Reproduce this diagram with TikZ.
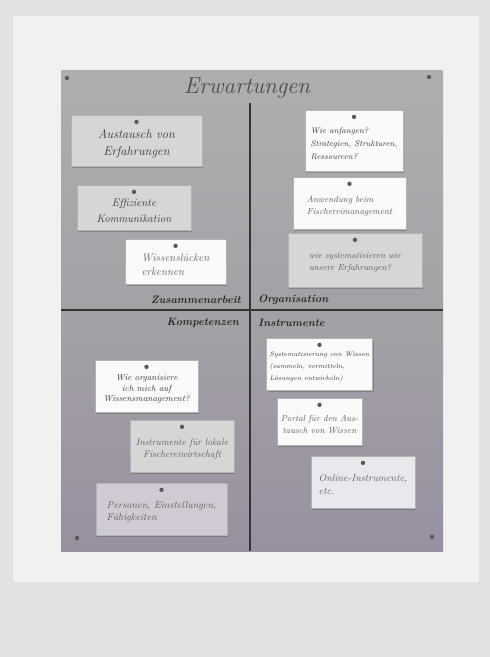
\documentclass[tikz,border=0pt]{standalone}
\usetikzlibrary{calc}
\definecolor{bgcol}{RGB}{226,226,226}
\definecolor{panelcol}{RGB}{241,241,241}
\definecolor{boardtop}{RGB}{174,174,176}
\definecolor{boardmid}{RGB}{164,161,166}
\definecolor{boardbot}{RGB}{152,144,160}
\definecolor{cardgrey}{RGB}{214,214,214}
\definecolor{cardwhite}{RGB}{250,250,250}
\definecolor{cardlav}{RGB}{208,202,212}
\definecolor{cardlav2}{RGB}{234,231,237}
\definecolor{inkdark}{RGB}{55,55,55}
\definecolor{inklight}{RGB}{95,95,95}
\tikzset{
  card/.style={draw=black!30, line width=0.3pt, inner sep=2pt},
  pinhead/.style={fill=black!65},
  boardline/.style={draw=black!80, line width=1.6pt},
  quadlabel/.style={font=\bfseries\itshape\fontsize{10.8}{12}\selectfont, text=black!85, inner sep=0pt},
  shadowbox/.style={fill=black, opacity=0.18}
}
\newcommand{\cardat}[8]{% name, x, y, w, h, fill, text options, text
  \fill[shadowbox] (#2-#4/2+1.2,#3-#5/2+1.6) rectangle (#2+#4/2+1.2,#3+#5/2+1.6);
  \node[card, fill=#6, minimum width=#4pt, minimum height=#5pt] (#1) at (#2,#3) {};
  \node[inner sep=0pt, #7] (#1t) at (#2,#3+3) {#8};
  \fill[pinhead] ($(#1.north)+(0,7)$) circle (2.2pt);
}
\begin{document}
\begin{tikzpicture}[x=1pt,y=-1pt]
\useasboundingbox (0,0) rectangle (490,657);
\fill[bgcol] (0,0) rectangle (490,657);
\fill[panelcol] (13,16) rectangle (479,582);
% board
\shade[top color=boardtop, bottom color=boardbot, middle color=boardmid] (61,70) rectangle (443,551);
\node[font=\itshape\fontsize{23}{24}\selectfont, text=black!70, inner sep=0pt] (title) at (247,88) {Erwartungen};
\coordinate (vtop) at (250,103);
\coordinate (vbot) at (250,551);
\coordinate (hl) at (61,310);
\coordinate (hr) at (443,310);
\draw[boardline] (vtop) -- (vbot);
\draw[boardline] (hl) -- (hr);
\fill[pinhead] (67,78) circle (2.2pt);
\fill[pinhead] (429,77) circle (2.2pt);
\fill[pinhead] (77,538) circle (2.2pt);
\fill[pinhead] (432,537) circle (2.2pt);
% quadrant labels
\node[quadlabel, anchor=east] (zus) at (241,300) {Zusammenarbeit};
\node[quadlabel, anchor=west] (org) at (258,300) {Organisation};
\node[quadlabel, anchor=east] (kom) at (239,323) {Kompetenzen};
\node[quadlabel, anchor=west] (ins) at (258,323) {Instrumente};
% cards
\cardat{c1}{136.5}{140.5}{131}{51}{cardgrey}{align=center, text=inkdark, font=\itshape\fontsize{12.5}{17}\selectfont}{Austausch von\\ Erfahrungen}
\cardat{c2}{134}{207.5}{114}{45}{cardgrey}{align=center, text=inkdark, font=\itshape\fontsize{11}{16}\selectfont}{Effiziente\\ Kommunikation}
\cardat{c3}{175.5}{261.5}{101}{45}{cardwhite}{align=left, text=inklight, font=\itshape\fontsize{11}{14}\selectfont}{Wissenslücken\\ erkennen}
\cardat{c4}{354}{140.5}{98}{61}{cardwhite}{align=left, text=inkdark, font=\itshape\fontsize{8.2}{13}\selectfont}{Wie anfangen?\\ Strategien, Strukturen,\\ Ressourcen?}
\cardat{c5}{349.5}{203}{113}{52}{cardwhite}{align=left, text=inklight, font=\itshape\fontsize{8.8}{12}\selectfont}{Anwendung beim\\ Fischereimanagement}
\cardat{c6}{355}{260}{134}{54}{cardgrey}{align=left, text=inklight, font=\itshape\fontsize{8.8}{12}\selectfont}{wie systematisieren wir\\ unsere Erfahrungen?}
\cardat{c7}{146.5}{386}{103}{52}{cardwhite}{align=center, text=inkdark, font=\itshape\fontsize{8.8}{10.5}\selectfont}{Wie organisiere\\ ich mich auf\\ Wissensmanagement?}
\cardat{c8}{182}{446}{104}{52}{cardgrey}{align=center, text=inklight, font=\itshape\fontsize{9.5}{12}\selectfont}{Instrumente für lokale\\ Fischereiwirtschaft}
\cardat{c9}{161.5}{509}{131}{52}{cardlav}{align=left, text=inklight, font=\itshape\fontsize{10}{12}\selectfont}{Personen, Einstellungen,\\ Fähigkeiten}
\cardat{c10}{319.5}{364}{106}{52}{cardwhite}{align=left, text=inkdark, font=\itshape\fontsize{6.6}{12}\selectfont}{Systematisierung von Wissen\\ (sammeln, vermitteln,\\ Lösungen entwickeln)}
\cardat{c11}{319.5}{421.5}{85}{47}{cardwhite}{align=center, text=inklight, font=\itshape\fontsize{8.8}{12}\selectfont}{Portal für den Aus-\\ tausch von Wissen}
\cardat{c12}{363}{482}{104}{52}{cardlav2}{align=left, text=inklight, font=\itshape\fontsize{10}{13}\selectfont}{Online-Instrumente,\\ etc.}
\end{tikzpicture}
\end{document}
